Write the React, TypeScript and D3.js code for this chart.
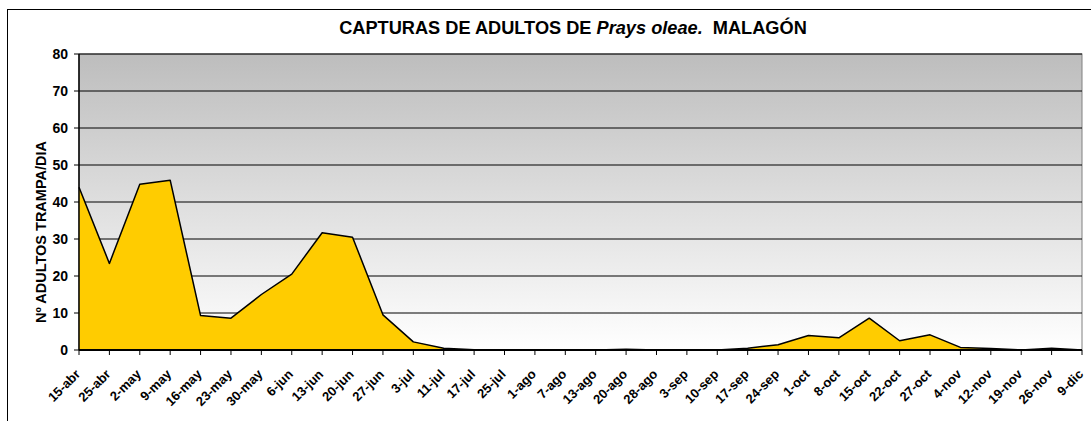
import React from "react";
import * as d3 from "d3";

const categories = ["15-abr","25-abr","2-may","9-may","16-may","23-may","30-may","6-jun","13-jun","20-jun","27-jun","3-jul","11-jul","17-jul","25-jul","1-ago","7-ago","13-ago","20-ago","28-ago","3-sep","10-sep","17-sep","24-sep","1-oct","8-oct","15-oct","22-oct","27-oct","4-nov","12-nov","19-nov","26-nov","9-dic"];
const captures = [44.0,23.4,44.8,45.9,9.3,8.6,15.0,20.5,31.7,30.5,9.5,2.2,0.5,0.1,0,0,0,0,0.2,0,0,0,0.5,1.4,3.9,3.3,8.6,2.5,4.1,0.7,0.4,0,0.5,0];
const yTicks = [0,10,20,30,40,50,60,70,80];

const W = 1091, H = 421;
const left = 79, right = 1082, top = 54, bottom = 350;
const FONT = "Arial, 'Liberation Sans', sans-serif";

export default function App() {
  const x = d3.scalePoint<string>().domain(categories).range([left, right]);
  const y = d3.scaleLinear().domain([0, 80]).range([bottom, top]);
  const area = d3.area<number>()
    .x((_, i) => x(categories[i])!)
    .y0(y(0))
    .y1((d) => y(d));
  const line = d3.line<number>()
    .x((_, i) => x(categories[i])!)
    .y((d) => y(d));

  return (
    <svg width={W} height={H} style={{ position: "absolute", left: 0, top: 0 }} fontFamily={FONT}>
      <defs>
        <linearGradient id="bg" x1="0" y1="0" x2="0" y2="1">
          <stop offset="0%" stopColor="#bdbdbd" />
          <stop offset="100%" stopColor="#ffffff" />
        </linearGradient>
      </defs>
      <rect x={0} y={0} width={W} height={H} fill="#fff" />
      <rect x={7.5} y={9.5} width={W} height={H} fill="none" stroke="#000" strokeWidth={1} />
      <text x={573} y={34} textAnchor="middle" fontSize={18.2} fontWeight="bold" fill="#000">
        CAPTURAS DE ADULTOS DE <tspan fontStyle="italic">Prays oleae.</tspan>{"\u00a0\u00a0"}MALAGÓN
      </text>
      <rect x={left} y={top} width={right - left} height={bottom - top} fill="url(#bg)" stroke="#808080" strokeWidth={1} />
      {yTicks.filter((t) => t > 0).map((t) => (
        <line key={t} x1={left} x2={right} y1={y(t)} y2={y(t)} stroke="#000" strokeWidth={1} />
      ))}
      <path d={area(captures)!} fill="#ffcc00" />
      <path d={line(captures)!} fill="none" stroke="#000" strokeWidth={1.5} strokeLinejoin="round" />
      <line x1={left} x2={left} y1={top} y2={bottom} stroke="#000" strokeWidth={1.5} />
      <line x1={left} x2={right} y1={bottom} y2={bottom} stroke="#000" strokeWidth={2} />
      {yTicks.map((t) => (
        <g key={t}>
          <line x1={left - 5} x2={left} y1={y(t)} y2={y(t)} stroke="#000" />
          <text x={left - 11} y={y(t) + 5} textAnchor="end" fontSize={14} fontWeight="bold">{t}</text>
        </g>
      ))}
      {categories.map((c) => (
        <g key={c}>
          <line x1={x(c)!} x2={x(c)!} y1={bottom} y2={bottom + 5} stroke="#000" />
          <text transform={`translate(${x(c)! + 2},${bottom + 25}) rotate(-45)`} textAnchor="end" fontSize={13} fontWeight="bold">{c}</text>
        </g>
      ))}
      <text transform={`translate(46,232) rotate(-90)`} textAnchor="middle" fontSize={14.5} fontWeight="bold">Nº ADULTOS TRAMPA/DIA</text>
    </svg>
  );
}
